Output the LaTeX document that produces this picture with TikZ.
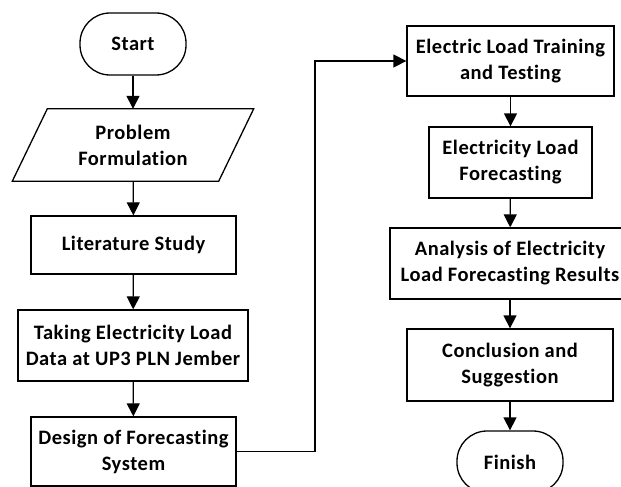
\documentclass[tikz,border=0pt]{standalone}
\usepackage{fontspec}
\setmainfont{Carlito}[Ligatures=NoCommon, LetterSpace=2.5]
\usetikzlibrary{arrows.meta}
\begin{document}
\begin{tikzpicture}[x=1pt,y=-1pt,
  every node/.style={font=\fontsize{20.5}{26}\selectfont\bfseries, align=center, inner sep=0pt},
  box/.style={draw, line width=1.3pt, minimum width=#1},
  term/.style={draw, line width=1.3pt, rounded corners=30pt, minimum width=106pt, minimum height=62pt},
  flow/.style={line width=1.3pt, -{Triangle[length=13pt,width=13pt]}}]
\useasboundingbox (0,0) rectangle (621,487);
\node[term] (start) at (133,44) {Start};
\node[minimum width=206pt, minimum height=72pt] (pf) at (133,145) {Problem\\Formulation};
\draw[line width=1.3pt] ([xshift=17.5pt]pf.north west) -- ([xshift=17.5pt]pf.north east)
  -- ([xshift=-17.5pt]pf.south east) -- ([xshift=-17.5pt]pf.south west) -- cycle;
\node[box=205pt, minimum height=58pt] (lit) at (133.5,245) {Literature Study};
\node[box=230pt, minimum height=71pt] (take) at (133,345.5) {Taking Electricity Load\\Data at UP3 PLN Jember};
\node[box=205pt, minimum height=69pt] (design) at (133.5,451.5) {Design of Forecasting\\System};
\node[box=207pt, minimum height=70pt] (train) at (510.5,61) {Electric Load Training\\and Testing};
\node[box=163pt, minimum height=71pt] (fore) at (510.5,162.5) {Electricity Load\\Forecasting};
\node[box=240pt, minimum height=71pt] (anal) at (510,263.5) {Analysis of Electricity\\Load Forecasting Results};
\node[box=206pt, minimum height=72pt] (concl) at (510,365) {Conclusion and\\Suggestion};
\node[term] (finish) at (510,462) {Finish};
\coordinate (c1) at (315,451.5);
\coordinate (c2) at (315,61);
\draw[flow] (start) -- (pf);
\draw[flow] (pf) -- (lit);
\draw[flow] (lit) -- (take);
\draw[flow] (take) -- (design);
\draw[flow] (design.east) -- (c1) -- (c2) -- (train.west);
\draw[flow] (train) -- (fore);
\draw[flow] (fore) -- (anal);
\draw[flow] (anal) -- (concl);
\draw[flow] (concl) -- (finish);
\end{tikzpicture}
\end{document}
